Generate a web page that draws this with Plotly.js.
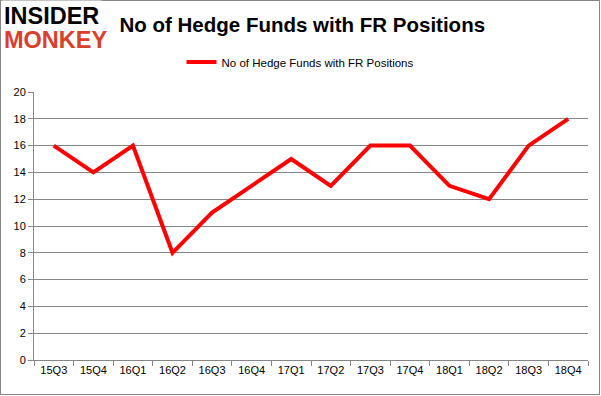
<!DOCTYPE html>
<html>
<head>
<meta charset="utf-8">
<script src="https://cdn.plot.ly/plotly-3.0.1.min.js"></script>
<style>
html,body{margin:0;padding:0;background:#fff;}
#wrap{position:relative;width:601px;height:396px;}
#frame{position:absolute;left:0;top:0;width:598px;height:393px;border:1.5px solid #868686;box-sizing:content-box;}
#chart{position:absolute;left:0;top:0;width:601px;height:396px;}
</style>
</head>
<body>
<div id="wrap"><div id="frame"></div><div id="chart"></div></div>
<script>
const quarters = ["15Q3","15Q4","16Q1","16Q2","16Q3","16Q4","17Q1","17Q2","17Q3","17Q4","18Q1","18Q2","18Q3","18Q4"];
const hedgeFunds = [16,14,16,8,11,13,15,13,16,16,13,12,16,18];
const seriesName = "No of Hedge Funds with FR Positions";
const chartTitle = "No of Hedge Funds with FR Positions";
const yTicks = [0,2,4,6,8,10,12,14,16,18,20];

const font = "'Liberation Sans', Arial, sans-serif";
Plotly.newPlot('chart', [{
  x: quarters, y: hedgeFunds, type: 'scatter', mode: 'lines',
  name: seriesName, line: {color: '#ff0000', width: 4}
}], {
  width: 601, height: 396,
  paper_bgcolor: 'rgba(0,0,0,0)', plot_bgcolor: 'rgba(0,0,0,0)',
  margin: {l: 34, r: 13, t: 92, b: 36},
  showlegend: true,
  title: {text: chartTitle, font: {family: font, size: 20.5, color: '#000', weight: 'bold'},
          x: 0.503, xref: 'container', xanchor: 'center', y: 1 - 25/396, yref: 'container', yanchor: 'middle'},
  legend: {orientation: 'h', x: 0.5, xref: 'container', xanchor: 'center', y: 1 - 62/396, yref: 'container', yanchor: 'middle',
           font: {family: font, size: 11.5, color: '#000'}, bgcolor: 'rgba(0,0,0,0)'},
  xaxis: {type: 'category', range: [-0.5, quarters.length - 0.5], tickson: 'boundaries', ticks: 'outside', ticklen: 5, tickcolor: '#868686',
          showline: true, linecolor: '#868686', linewidth: 1, showgrid: false,
          tickfont: {family: font, size: 11, color: '#000'}, fixedrange: true},
  yaxis: {range: [0, 20], tickvals: yTicks, ticks: 'outside', ticklen: 5, tickcolor: '#868686',
          showline: true, linecolor: '#868686', linewidth: 1, showgrid: true, gridcolor: '#868686', gridwidth: 1,
          zeroline: false, tickfont: {family: font, size: 11, color: '#000'}, fixedrange: true},
  annotations: [
    {text: 'INSIDER', xref: 'paper', yref: 'paper', x: -33/554, y: 1 + 92/268, xanchor: 'left', yanchor: 'top',
     showarrow: false, font: {family: font, size: 23.5, color: '#000', weight: 'bold'}, bgcolor: '#fff', borderpad: 2},
    {text: 'MONKEY', xref: 'paper', yref: 'paper', x: -33/554, y: 1 + 68/268, xanchor: 'left', yanchor: 'top',
     showarrow: false, font: {family: font, size: 23.5, color: '#d9402b', weight: 'bold'}, bgcolor: '#fff', borderpad: 2}
  ]
}, {displayModeBar: false, staticPlot: true});
</script>
</body>
</html>
